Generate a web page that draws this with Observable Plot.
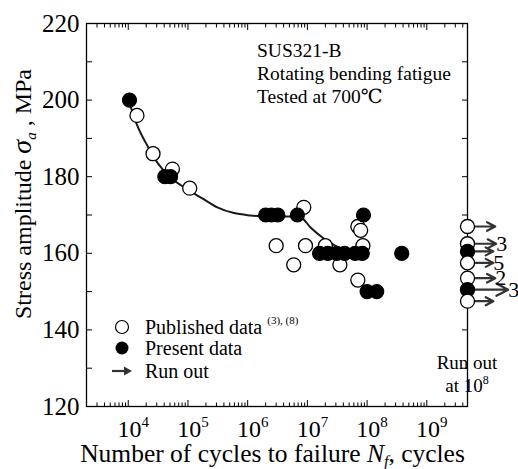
<!DOCTYPE html>
<html><head><meta charset="utf-8">
<script src="https://cdn.jsdelivr.net/npm/d3@7"></script>
<script src="https://cdn.jsdelivr.net/npm/@observablehq/plot@0.6"></script>
<style>
body{margin:0;background:#fff}
</style>
</head><body><div id="chart"></div>
<script>
// Published data (open circles): cycles, stress (MPa)
const publishedN = [1.4e4, 2.6e4, 5.5e4, 1.07e5, 8.7e6, 3.0e6, 9.3e6, 5.9e6, 2.0e7, 3.5e7, 8.5e7, 7.0e7, 7.8e7, 7.0e7];
const publishedS = [196, 186, 182, 177, 172, 162, 162, 157, 162, 157, 162, 167, 166, 153];
// Present data (filled circles)
const presentN = [1.05e4, 4.1e4, 5.1e4, 2.0e6, 2.5e6, 3.2e6, 6.8e6, 8.7e7, 1.6e7, 2.2e7, 3.1e7, 4.2e7, 6.3e7, 8.3e7, 3.8e8, 1.0e8, 1.45e8];
const presentS = [200, 180, 180, 170, 170, 170, 170, 170, 160, 160, 160, 160, 160, 160, 160, 150, 150];
// Run-out specimens (plotted in the column at the right edge)
const runOutN = 4.8e9;
const runS = [167, 162.5, 160.5, 157.5, 153.5, 150.5, 147.5];
const runType = ["Published", "Published", "Present", "Published", "Published", "Present", "Published"];
const runCount = ["", "3", "", "5", "2", "3", ""];
const runArrowEnd = [1.4e10, 1.45e10, 1.3e10, 1.3e10, 1.4e10, 2.3e10, 1.3e10];
// Fitted S-N curve
const curveN = [1.0e4, 1.38e4, 2.16e4, 3.16e4, 5.0e4, 9.5e4, 1.8e5, 3.1e5, 5.9e5, 1.1e6, 2.1e6, 5.9e6, 7.9e6, 1.12e7, 1.9e7, 3.2e7, 6.0e7];
const curveS = [200.3, 193.8, 187.7, 183.4, 179.9, 176.8, 174.2, 172.0, 170.5, 169.9, 169.6, 169.6, 169.3, 166.8, 163.8, 161.6, 158.8];
// Axis ticks
const xDecades = [1e4, 1e5, 1e6, 1e7, 1e8, 1e9];
const xDecadeExp = ["4", "5", "6", "7", "8", "9"];
const yTicks = [120, 130, 140, 150, 160, 170, 180, 190, 200, 210, 220];
const yLabels = [120, 140, 160, 180, 200, 220];

const xDomain = [2e3, 4.8e9];
const xMinor = [];
for (let e = 3; e <= 9; e++) for (let k = 2; k <= 9; k++) {
  const v = k * Math.pow(10, e);
  if (v >= xDomain[0] && v <= xDomain[1]) xMinor.push(v);
}

const published = publishedN.map((n, i) => ({n, s: publishedS[i]}));
const present = presentN.map((n, i) => ({n, s: presentS[i]}));
const runs = runS.map((s, i) => ({n: runOutN, s, type: runType[i], count: runCount[i], end: runArrowEnd[i]}));
const curve = curveN.map((n, i) => ({n, s: curveS[i]}));

const FONT = '"Liberation Serif", "Times New Roman", Times, "DejaVu Serif", serif';
const plot = Plot.plot({
  width: 518, height: 469,
  marginLeft: 86, marginRight: 51, marginTop: 23, marginBottom: 63,
  style: {background: "white", color: "black"},
  x: {type: "log", domain: xDomain},
  y: {domain: [120, 220]},
  color: {domain: ["Published", "Present"], range: ["white", "black"]},
  marks: [
    Plot.axisY({anchor: "left", ticks: yTicks, tickSize: -6, tickPadding: 13, fontSize: 25,
      tickFormat: d => yLabels.includes(d) ? String(d) : "", label: null}),
    Plot.axisY({anchor: "right", ticks: yTicks, tickSize: -6, tickFormat: () => "", label: null}),
    Plot.axisX({anchor: "bottom", ticks: xDecades, tickSize: -6, tickPadding: 19, fontSize: 24,
      tickFormat: () => "10", label: null}),
    Plot.axisX({anchor: "bottom", ticks: xMinor, tickSize: -3.5, tickFormat: () => "", label: null}),
    Plot.axisX({anchor: "top", ticks: xDecades, tickSize: -6, tickFormat: () => "", label: null}),
    Plot.axisX({anchor: "top", ticks: xMinor, tickSize: -3.5, tickFormat: () => "", label: null}),
    Plot.frame({stroke: "black", strokeWidth: 1.3}),
    Plot.line(curve, {x: "n", y: "s", curve: "monotone-x", stroke: "#1a1a1a", strokeWidth: 2}),
    Plot.dot(published, {x: "n", y: "s", r: 7, fill: "white", stroke: "black", strokeWidth: 1.3}),
    Plot.dot(present, {x: "n", y: "s", r: 7, fill: "black", stroke: "black", strokeWidth: 1.2}),
    Plot.arrow(runs, {x1: "n", x2: "end", y1: "s", y2: "s", stroke: "#333", strokeWidth: 2.2, headLength: 9, headAngle: 55}),
    Plot.dot(runs, {x: "n", y: "s", r: 7, fill: "type", stroke: "black", strokeWidth: 1.3}),
    Plot.text(runs, {x: "end", y: "s", text: "count", dx: 0, textAnchor: "start", fontSize: 22, fill: "black"})
  ]
});

const svg = d3.select(plot);
// superscripts on x tick labels
svg.selectAll('g[aria-label="x-axis tick label"] text').each(function(d, i) {
  const t = d3.select(this);
  t.attr("dx", 5);
  t.append("tspan").attr("font-size", 15).attr("dy", -10).text(xDecadeExp[i]);
});

// y axis title
const yt = svg.append("text").attr("transform", "translate(31,194) rotate(-90)")
  .attr("text-anchor", "middle").attr("font-size", 24).attr("fill", "black");
yt.append("tspan").text("Stress amplitude ");
yt.append("tspan").attr("font-style", "italic").attr("font-size", 28).text("σ");
yt.append("tspan").attr("font-style", "italic").attr("font-size", 15).attr("dy", 5).text("a");
yt.append("tspan").attr("dy", -5).text(" , MPa");

// x axis title
const xt = svg.append("text").attr("x", 272.5).attr("y", 462)
  .attr("text-anchor", "middle").attr("font-size", 25.5).attr("fill", "black");
xt.append("tspan").text("Number of cycles to failure ");
xt.append("tspan").attr("font-style", "italic").text("N");
xt.append("tspan").attr("font-style", "italic").attr("font-size", 16).attr("dy", 5).text("f");
xt.append("tspan").attr("dy", -5).text(", cycles");

// annotation
const ann = ["SUS321-B", "Rotating bending fatigue", "Tested at 700℃"];
ann.forEach((s, i) => svg.append("text").attr("x", 257).attr("y", 57 + i * 23)
  .attr("text-anchor", "start").attr("font-size", 19.5).attr("fill", "black").text(s));

// legend
const lg = svg.append("g");
lg.append("circle").attr("cx", 122).attr("cy", 327).attr("r", 6.5).attr("fill", "white").attr("stroke", "black").attr("stroke-width", 1.2);
lg.append("circle").attr("cx", 122).attr("cy", 348).attr("r", 6.5).attr("fill", "black");
lg.append("line").attr("x1", 112).attr("x2", 126).attr("y1", 371).attr("y2", 371).attr("stroke", "#333").attr("stroke-width", 2.2);
lg.append("path").attr("d", "M132,371 L124,366.5 L124,375.5 Z").attr("fill", "#333");
const l1 = lg.append("text").attr("x", 145).attr("y", 334).attr("text-anchor", "start").attr("font-size", 20).attr("fill", "black");
l1.append("tspan").text("Published data ");
l1.append("tspan").attr("font-size", 11).attr("dy", -10).text("(3), (8)");
lg.append("text").attr("x", 145).attr("y", 355).attr("text-anchor", "start").attr("font-size", 20).attr("fill", "black").text("Present data");
lg.append("text").attr("x", 145).attr("y", 378).attr("text-anchor", "start").attr("font-size", 20).attr("fill", "black").text("Run out");

// run out note
svg.append("text").attr("x", 467).attr("y", 369).attr("text-anchor", "middle").attr("font-size", 19).attr("fill", "black").text("Run out");
const ro = svg.append("text").attr("x", 467).attr("y", 392).attr("text-anchor", "middle").attr("font-size", 19).attr("fill", "black");
ro.append("tspan").text("at 10");
ro.append("tspan").attr("font-size", 12).attr("dy", -8).text("8");

// serif font everywhere
svg.attr("font-family", FONT).style("font-family", FONT);
svg.selectAll("text").attr("font-family", FONT).style("font-family", FONT);

document.getElementById("chart").appendChild(plot);
</script>
</body></html>
